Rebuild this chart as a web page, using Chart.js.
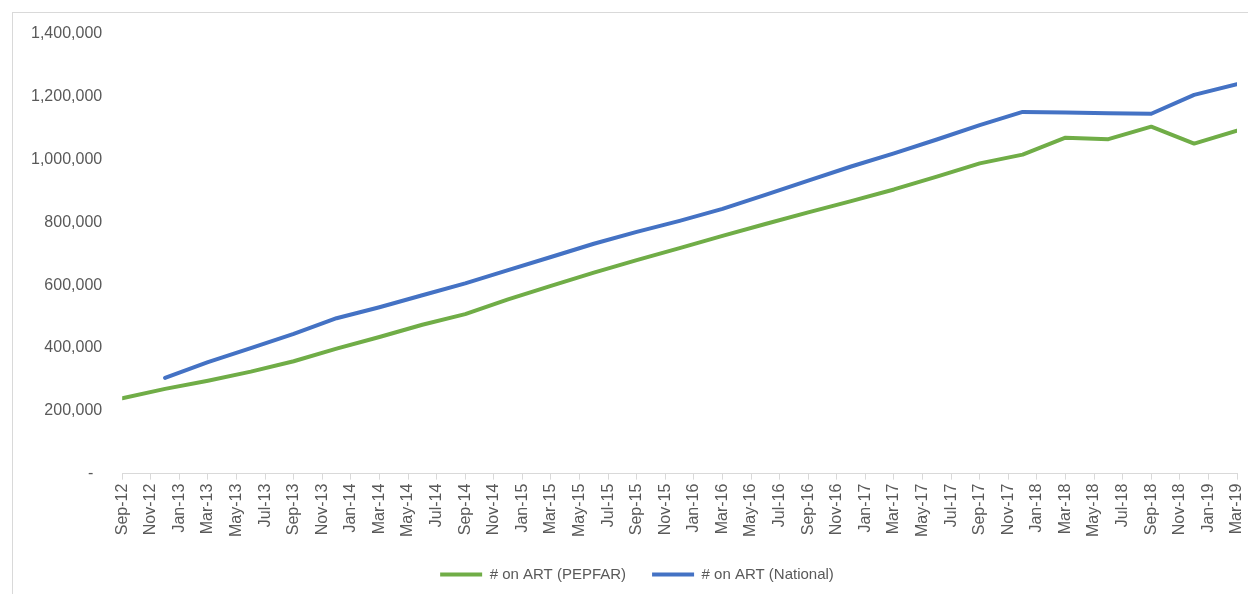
<!DOCTYPE html>
<html>
<head>
<meta charset="utf-8">
<script src="https://cdn.jsdelivr.net/npm/chart.js@4/dist/chart.umd.min.js"></script>
<style>
  html, body { margin: 0; padding: 0; background: #ffffff; overflow: hidden; }
  #frame { position: absolute; left: 12px; top: 12px; width: 1250px; height: 600px; border: 1px solid #d9d9d9; box-sizing: border-box; }
  #wrap { position: absolute; left: 0; top: 0; width: 1248px; height: 594px; }
</style>
</head>
<body>
<div id="frame"></div>
<div id="wrap"><canvas id="c" width="1248" height="594"></canvas></div>
<script>
// Axis tick labels (every second month, Sep-12 .. Mar-19)
const tickLabels = ['Sep-12','Nov-12','Jan-13','Mar-13','May-13','Jul-13','Sep-13','Nov-13','Jan-14','Mar-14',
  'May-14','Jul-14','Sep-14','Nov-14','Jan-15','Mar-15','May-15','Jul-15','Sep-15','Nov-15',
  'Jan-16','Mar-16','May-16','Jul-16','Sep-16','Nov-16','Jan-17','Mar-17','May-17','Jul-17',
  'Sep-17','Nov-17','Jan-18','Mar-18','May-18','Jul-18','Sep-18','Nov-18','Jan-19','Mar-19'];

// Quarterly reporting periods
const quarters = ['Sep-12','Dec-12','Mar-13','Jun-13','Sep-13','Dec-13','Mar-14','Jun-14','Sep-14','Dec-14',
  'Mar-15','Jun-15','Sep-15','Dec-15','Mar-16','Jun-16','Sep-16','Dec-16','Mar-17','Jun-17',
  'Sep-17','Dec-17','Mar-18','Jun-18','Sep-18','Dec-18','Mar-19'];

const pepfar = [240000,270000,296000,325000,358000,398000,435000,474000,508000,555000,
  598000,640000,680000,718000,757000,795000,832000,868000,905000,946000,
  988000,1016000,1070000,1065000,1105000,1051000,1092000];

const national = [null,305000,355000,400000,445000,495000,530000,568000,606000,648000,
  690000,732000,770000,805000,843000,888000,933000,978000,1020000,1064000,
  1110000,1152000,1150000,1148000,1146000,1206000,1240000];

const seriesNames = ['# on ART (PEPFAR)', '# on ART (National)'];
const seriesColors = ['#70AD47', '#4472C4'];

const MONTHS = ['Jan','Feb','Mar','Apr','May','Jun','Jul','Aug','Sep','Oct','Nov','Dec'];
function monthIndex(lbl) {
  const [m, y] = lbl.split('-');
  return (parseInt(y, 10) - 12) * 12 + MONTHS.indexOf(m) - 8; // months since Sep-12
}
function toPoints(vals) {
  return vals.map((v, i) => ({ x: monthIndex(quarters[i]), y: v }));
}

const gray = '#595959';
const FONT = "'Liberation Sans', Arial, sans-serif";

const legendShift = {
  id: 'legendShift',
  afterLayout(chart) {
    const lg = chart.legend;
    if (lg) { lg.left += 18; if (lg.adjustHitBoxes) lg.adjustHitBoxes(); }
  }
};

new Chart(document.getElementById('c'), {
  type: 'line',
  plugins: [legendShift],
  data: {
    datasets: [
      { label: seriesNames[0], data: toPoints(pepfar), borderColor: seriesColors[0], backgroundColor: seriesColors[0],
        borderWidth: 4, pointRadius: 0, tension: 0, spanGaps: false, borderJoinStyle: 'round', borderCapStyle: 'round' },
      { label: seriesNames[1], data: toPoints(national), borderColor: seriesColors[1], backgroundColor: seriesColors[1],
        borderWidth: 4, pointRadius: 0, tension: 0, spanGaps: false, borderJoinStyle: 'round', borderCapStyle: 'round' }
    ]
  },
  options: {
    responsive: false,
    animation: false,
    devicePixelRatio: 1,
    layout: { padding: { left: 19, right: 11, top: 34, bottom: 2 } },
    plugins: {
      tooltip: { enabled: false },
      legend: {
        position: 'bottom',
        labels: {
          color: gray,
          font: { family: FONT, size: 15 },
          boxWidth: 42,
          boxHeight: 4,
          padding: 26,
          generateLabels: (chart) => Chart.defaults.plugins.legend.labels.generateLabels(chart)
            .map(l => Object.assign(l, { lineWidth: 0, fillStyle: l.strokeStyle }))
        }
      }
    },
    scales: {
      x: {
        type: 'linear',
        min: 0,
        max: (tickLabels.length - 1) * 2,
        afterFit: (s) => { s.paddingLeft = 0; s.paddingRight = 0; },
        grid: { display: true, drawOnChartArea: false, drawTicks: true, tickLength: 6, color: '#d9d9d9', lineWidth: 1 },
        border: { display: true, color: '#d9d9d9', width: 1 },
        ticks: {
          stepSize: 2,
          autoSkip: false,
          maxRotation: 90,
          minRotation: 90,
          padding: 4,
          color: gray,
          font: { family: FONT, size: 16 },
          callback: (v) => tickLabels[Math.round(v / 2)] || ''
        }
      },
      y: {
        min: 0,
        max: 1400000,
        afterFit: (s) => { s.paddingTop = 0; s.paddingBottom = 0; },
        grid: { display: false },
        border: { display: false },
        ticks: {
          stepSize: 200000,
          padding: 12,
          color: gray,
          font: { family: FONT, size: 16 },
          callback: (v) => v === 0 ? '-  ' : v.toLocaleString('en-US')
        }
      }
    }
  }
});
</script>
</body>
</html>
